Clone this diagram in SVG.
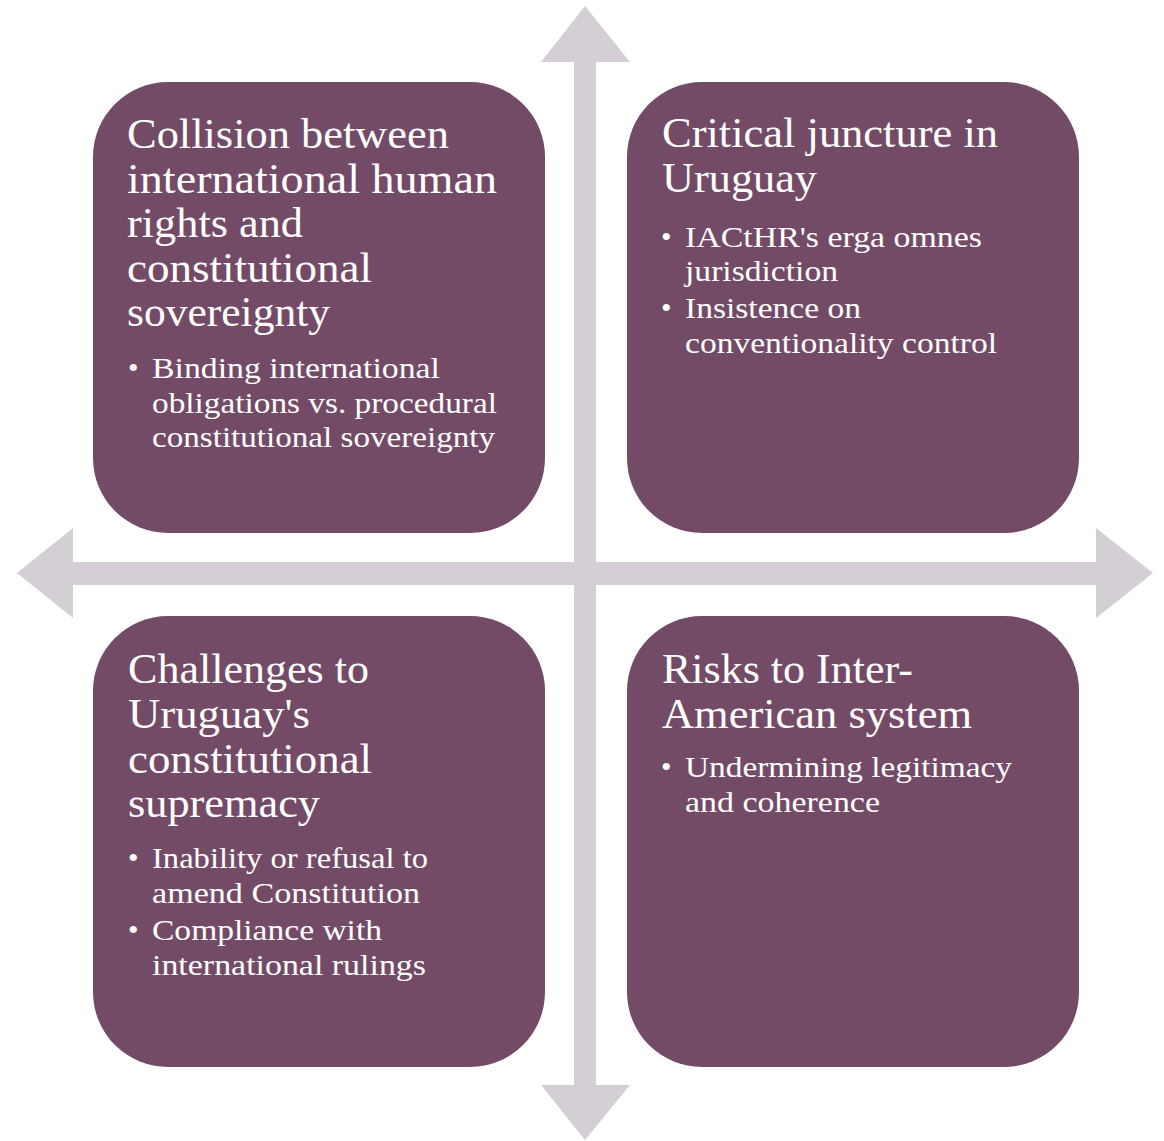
<svg xmlns="http://www.w3.org/2000/svg" width="1164" height="1141" viewBox="0 0 1164 1141">
  <style>
    .axis { fill: #d4cfd4; }
    .box { fill: #744b66; }
    .title { font-family: "Liberation Serif", "Times New Roman", serif; font-size: 42px; fill: #ffffff; }
    .item { font-family: "Liberation Serif", "Times New Roman", serif; font-size: 30px; fill: #ffffff; }
  </style>
  <rect width="1164" height="1141" fill="#ffffff"/>

  <!-- crossing double-headed axes -->
  <g id="connectors">
    <path class="axis" d="M574,62 L541,62 L585,6 L630,62 L596,62 L596,1085 L630,1085 L585,1140 L541,1085 L574,1085 Z"/>
    <path class="axis" d="M73,562 L73,528 L17,573 L73,618 L73,585 L1096,585 L1096,618 L1153,573 L1096,528 L1096,562 Z"/>
  </g>

  <g id="node-collision">
    <rect class="box" x="93" y="82" width="452" height="451" rx="75" ry="75"/>
    <text class="title">
      <tspan x="127" y="148" textLength="322" lengthAdjust="spacingAndGlyphs">Collision between</tspan>
      <tspan x="127" y="192.5" textLength="370" lengthAdjust="spacingAndGlyphs">international human</tspan>
      <tspan x="127" y="237" textLength="176" lengthAdjust="spacingAndGlyphs">rights and</tspan>
      <tspan x="127" y="281.5" textLength="245" lengthAdjust="spacingAndGlyphs">constitutional</tspan>
      <tspan x="127" y="326" textLength="203" lengthAdjust="spacingAndGlyphs">sovereignty</tspan>
    </text>
    <text class="item">
      <tspan x="128" y="378">•</tspan>
      <tspan x="152" y="378" textLength="288" lengthAdjust="spacingAndGlyphs">Binding international</tspan>
      <tspan x="152" y="413" textLength="345" lengthAdjust="spacingAndGlyphs">obligations vs. procedural</tspan>
      <tspan x="152" y="447" textLength="343" lengthAdjust="spacingAndGlyphs">constitutional sovereignty</tspan>
    </text>
  </g>

  <g id="node-juncture">
    <rect class="box" x="627" y="82" width="452" height="451" rx="75" ry="75"/>
    <text class="title">
      <tspan x="662" y="147" textLength="336" lengthAdjust="spacingAndGlyphs">Critical juncture in</tspan>
      <tspan x="662" y="192" textLength="155" lengthAdjust="spacingAndGlyphs">Uruguay</tspan>
    </text>
    <text class="item">
      <tspan x="661" y="247">•</tspan>
      <tspan x="685" y="247" textLength="297" lengthAdjust="spacingAndGlyphs">IACtHR's erga omnes</tspan>
      <tspan x="685" y="281" textLength="153" lengthAdjust="spacingAndGlyphs">jurisdiction</tspan>
      <tspan x="661" y="318">•</tspan>
      <tspan x="685" y="318" textLength="176" lengthAdjust="spacingAndGlyphs">Insistence on</tspan>
      <tspan x="685" y="353" textLength="312" lengthAdjust="spacingAndGlyphs">conventionality control</tspan>
    </text>
  </g>

  <g id="node-challenges">
    <rect class="box" x="93" y="616" width="452" height="451" rx="75" ry="75"/>
    <text class="title">
      <tspan x="128" y="683" textLength="241" lengthAdjust="spacingAndGlyphs">Challenges to</tspan>
      <tspan x="128" y="728" textLength="182" lengthAdjust="spacingAndGlyphs">Uruguay's</tspan>
      <tspan x="128" y="773" textLength="244" lengthAdjust="spacingAndGlyphs">constitutional</tspan>
      <tspan x="128" y="817" textLength="192" lengthAdjust="spacingAndGlyphs">supremacy</tspan>
    </text>
    <text class="item">
      <tspan x="128" y="868">•</tspan>
      <tspan x="152" y="868" textLength="276" lengthAdjust="spacingAndGlyphs">Inability or refusal to</tspan>
      <tspan x="152" y="903" textLength="268" lengthAdjust="spacingAndGlyphs">amend Constitution</tspan>
      <tspan x="128" y="940">•</tspan>
      <tspan x="152" y="940" textLength="230" lengthAdjust="spacingAndGlyphs">Compliance with</tspan>
      <tspan x="152" y="975" textLength="274" lengthAdjust="spacingAndGlyphs">international rulings</tspan>
    </text>
  </g>

  <g id="node-risks">
    <rect class="box" x="627" y="616" width="452" height="451" rx="75" ry="75"/>
    <text class="title">
      <tspan x="662" y="683" textLength="251" lengthAdjust="spacingAndGlyphs">Risks to Inter-</tspan>
      <tspan x="662" y="728" textLength="310" lengthAdjust="spacingAndGlyphs">American system</tspan>
    </text>
    <text class="item">
      <tspan x="661" y="777">•</tspan>
      <tspan x="685" y="777" textLength="327" lengthAdjust="spacingAndGlyphs">Undermining legitimacy</tspan>
      <tspan x="685" y="812" textLength="195" lengthAdjust="spacingAndGlyphs">and coherence</tspan>
    </text>
  </g>
</svg>
